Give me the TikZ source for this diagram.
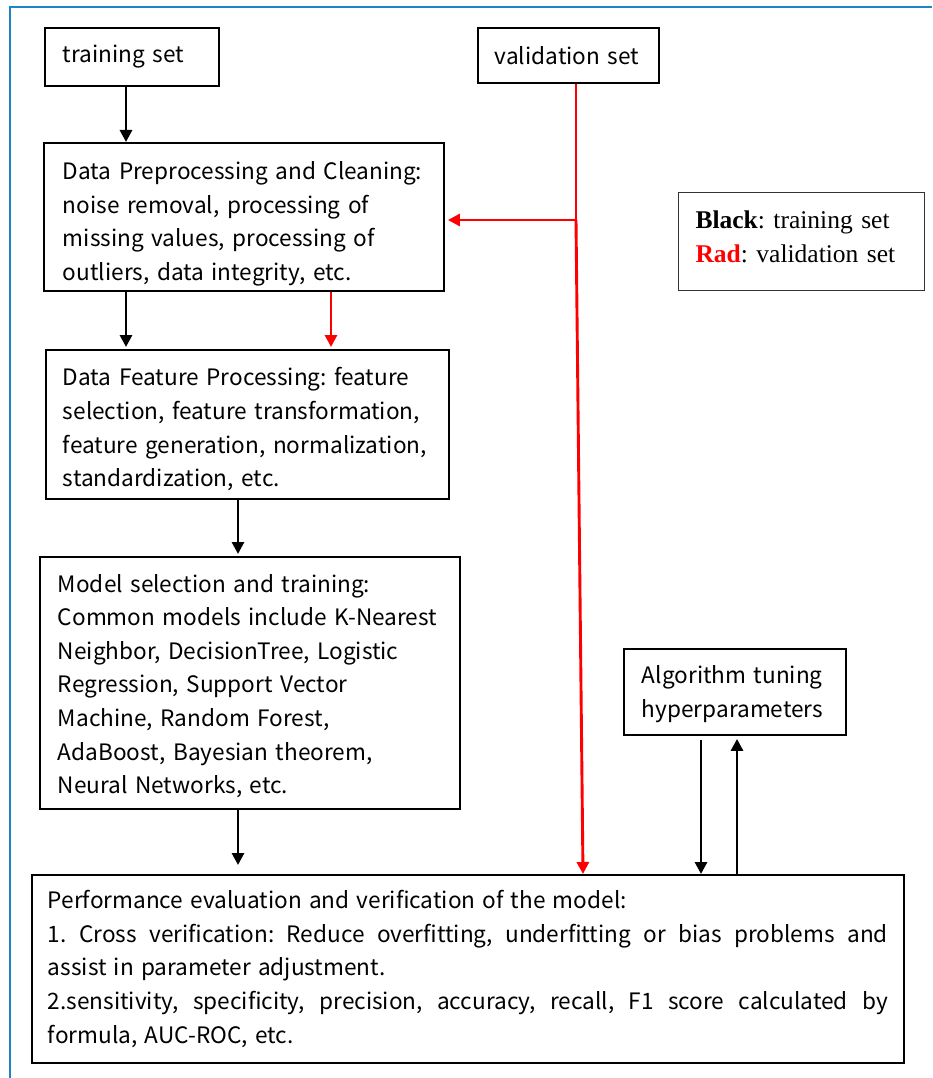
\documentclass[tikz,border=0pt]{standalone}
\usepackage{fontspec}
\setmainfont{Noto Sans CJK JP}
\newfontfamily\legfont{Liberation Serif}
\usetikzlibrary{arrows.meta,calc}
\definecolor{frameblue}{RGB}{30,132,198}
\definecolor{vred}{RGB}{255,0,0}
\frenchspacing
\newcommand{\topstrut}[1]{\rule{0pt}{#1}}
\newcommand{\perfspacing}{\spaceskip=7.2pt plus 8pt minus 1pt\relax}
\begin{document}
\begin{tikzpicture}[x=1pt,y=-1pt,
  box/.style={draw, line width=1.9pt, anchor=north west, align=left,
    font=\fontsize{22.6}{33.6}\selectfont\frenchspacing, inner ysep=0pt},
  arr/.style={line width=2.9pt, -{Triangle[length=12pt,width=12pt]}},
  redarr/.style={arr, vred},
  redline/.style={line width=2.9pt, vred}]
\useasboundingbox (0,0) rectangle (932,1078);
\draw[frameblue, line width=2.5pt] (10,1078) -- (10,7) -- (932,7);

\node[box, minimum width=174pt, minimum height=58pt, inner xsep=18pt, text width=138pt] (train) at (44,27) {training set};
\node[box, minimum width=181pt, minimum height=55pt, inner xsep=17pt, text width=147pt] (val) at (477,27) {validation set};
\node[box, minimum width=400pt, minimum height=148pt, inner xsep=19pt, text width=362pt] (prep) at (43,142)
  {\topstrut{32pt}Data Preprocessing and Cleaning:\\ noise removal, processing of\\ missing values, processing of\\ outliers, data integrity, etc.};
\node[box, minimum width=403pt, minimum height=149pt, inner xsep=17pt, text width=369pt] (feat) at (45,349)
  {\topstrut{28pt}Data Feature Processing: feature\\ selection, feature transformation,\\ feature generation, normalization,\\ standardization, etc.};
\node[box, minimum width=420pt, minimum height=252pt, inner xsep=18pt, text width=384pt] (model) at (39,556)
  {\topstrut{24pt}Model selection and training:\\ Common models include K-Nearest\\ Neighbor, DecisionTree, Logistic\\ Regression, Support Vector\\ Machine, Random Forest,\\ AdaBoost, Bayesian theorem,\\ Neural Networks, etc.};
\node[box, minimum width=222pt, minimum height=86pt, inner xsep=18pt, text width=186pt] (tune) at (623,648)
  {\topstrut{22pt}Algorithm tuning\\ hyperparameters};
\node[box, minimum width=872pt, minimum height=188pt, inner xsep=16pt, text width=840pt, align=justify,
  font=\fontsize{22.6}{33.8}\selectfont\frenchspacing\perfspacing] (perf) at (31,874)
  {Performance evaluation and verification of the model:\\
   1. Cross verification: Reduce overfitting, underfitting or bias problems and\linebreak
   assist in parameter adjustment.\\
   2.sensitivity, specificity, precision, accuracy, recall, F1 score calculated by\linebreak
   formula, AUC-ROC, etc.};
\node[draw=black!80, line width=1.1pt, anchor=north west, align=left, minimum width=246pt, minimum height=98pt,
  inner xsep=17pt, inner ysep=0pt, text width=212pt, font=\legfont\fontsize{25.5}{33.5}\selectfont\frenchspacing] (legend) at (678,192)
  {\textbf{Black}: training set\\ \textcolor{vred}{\textbf{Rad}}: validation set\rule[-10pt]{0pt}{0pt}};

% positions of connectors
\coordinate (xa) at (126,0);
\coordinate (xb) at (331,0);
\coordinate (xc) at (238,0);
\coordinate (xd) at (701,0);
\coordinate (xe) at (737,0);
\coordinate (xr) at (583,0);
\coordinate (vj) at (576,220);

\draw[arr] (train.south -| xa) -- (prep.north -| xa);
\draw[arr, shorten >=2pt] (prep.south -| xa) -- (feat.north -| xa);
\draw[redarr, shorten >=2pt] (prep.south -| xb) -- (feat.north -| xb);
\draw[arr, shorten >=2pt] (feat.south -| xc) -- (model.north -| xc);
\draw[arr, shorten >=9pt] (model.south -| xc) -- (perf.north -| xc);
\draw[arr, shorten <=4pt] (tune.south -| xd) -- (perf.north -| xd);
\draw[arr, shorten >=3pt] (perf.north -| xe) -- (tune.south -| xe);

\draw[redline] (val.south -| vj) -- (vj);
\draw[redarr, shorten >=3pt] (vj) -- (prep.east |- vj);
\draw[redarr] (vj) -- (perf.north -| xr);
\end{tikzpicture}
\end{document}
